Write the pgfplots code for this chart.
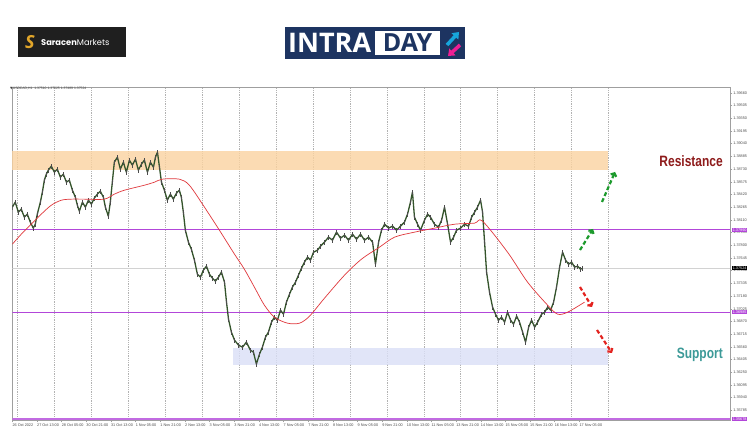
\documentclass[border=0pt]{standalone}
\usepackage{pgfplots}
\pgfplotsset{compat=1.18}
\usepackage{pgfplotstable}
\usepackage{fontspec}
\setmainfont{Liberation Sans}
\newfontfamily\headfont[FakeStretch=0.8]{Liberation Sans}
\newfontfamily\logofont{Open Sans}
\newfontfamily\sarfont{Poppins}
\newfontfamily\symfont{DejaVu Sans}
\usetikzlibrary{arrows.meta}

\definecolor{candle}{HTML}{34542B}
\definecolor{mavg}{HTML}{E0383C}
\definecolor{lvl}{HTML}{B246D9}
\definecolor{zoneR}{HTML}{FBD3A0}
\definecolor{zoneS}{HTML}{DADFF7}
\definecolor{navy}{HTML}{1D3461}
\definecolor{gold}{HTML}{E2A62A}
\definecolor{resred}{HTML}{8E1B1B}
\definecolor{supteal}{HTML}{3C9A98}
\definecolor{arrgreen}{HTML}{1C9A2C}
\definecolor{arrred}{HTML}{E3231F}

% hourly closes, USDCAD H1 (bar index, price)
\pgfplotstableread{
bar price
0 1.38265
1.9 1.38326
3.9 1.38204
5.8 1.38241
7.8 1.38143
9.7 1.38180
11.7 1.38082
13.6 1.38009
14.9 1.38057
16.2 1.38180
18.2 1.38326
19.5 1.38448
20.8 1.38595
22.1 1.38668
23.4 1.38717
25.3 1.38765
27.3 1.38692
29.2 1.38729
31.2 1.38631
33.1 1.38668
35.1 1.38570
37.0 1.38595
39.0 1.38472
40.9 1.38387
42.2 1.38289
43.5 1.38216
45.5 1.38326
47.4 1.38265
49.4 1.38350
51.3 1.38302
53.2 1.38375
55.2 1.38424
57.1 1.38460
59.1 1.38387
60.4 1.38265
62.3 1.38155
63.6 1.38326
64.9 1.38570
66.2 1.38814
68.2 1.38875
70.1 1.38729
72.1 1.38814
74.0 1.38692
76.0 1.38839
77.9 1.38778
79.9 1.38851
81.8 1.38717
83.8 1.38790
85.7 1.38839
87.7 1.38692
89.6 1.38814
91.6 1.38753
92.9 1.38875
94.2 1.38936
95.5 1.38753
96.8 1.38570
98.7 1.38472
100.6 1.38350
102.6 1.38424
104.5 1.38363
106.5 1.38436
108.4 1.38472
109.7 1.38387
111.0 1.38204
112.3 1.37984
114.3 1.37838
116.2 1.37752
118.2 1.37618
120.1 1.37447
122.1 1.37411
124.0 1.37496
126.0 1.37545
127.9 1.37447
129.9 1.37398
131.8 1.37362
133.8 1.37411
135.7 1.37472
137.7 1.37350
139.0 1.37106
140.3 1.36898
142.2 1.36739
144.2 1.36642
146.8 1.36581
149.4 1.36556
151.9 1.36617
154.5 1.36520
156.5 1.36495
158.4 1.36349
160.4 1.36471
162.3 1.36556
164.3 1.36678
166.2 1.36739
168.2 1.36861
170.1 1.36922
172.1 1.36886
174.0 1.37008
176.0 1.36959
177.9 1.37106
179.9 1.37203
181.8 1.37289
183.8 1.37350
185.7 1.37435
187.7 1.37520
189.6 1.37594
191.6 1.37655
193.5 1.37618
195.5 1.37716
198.1 1.37740
200.0 1.37789
202.6 1.37838
205.2 1.37899
207.8 1.37862
210.4 1.37960
213.0 1.37887
215.6 1.37923
218.2 1.37862
220.8 1.37935
223.4 1.37874
226.0 1.37935
228.6 1.37862
231.2 1.37899
233.8 1.37838
235.7 1.37569
237.7 1.37838
239.6 1.37984
241.6 1.38057
244.2 1.38009
246.8 1.38033
249.4 1.37984
251.9 1.38033
254.5 1.38082
256.5 1.38180
258.4 1.38326
259.7 1.38448
261.0 1.38143
263.0 1.38057
264.9 1.37984
267.5 1.38106
269.5 1.38180
271.4 1.38143
274.0 1.38057
276.6 1.38021
278.6 1.38106
280.5 1.38265
282.5 1.38057
284.4 1.37838
286.4 1.37899
288.3 1.37984
290.9 1.38009
293.5 1.38057
296.1 1.38033
298.1 1.38143
300.0 1.38204
301.9 1.38265
303.9 1.38350
305.2 1.38204
306.5 1.37838
307.8 1.37472
309.7 1.37228
311.7 1.37044
313.6 1.36959
315.6 1.36886
317.5 1.36922
319.5 1.36861
321.4 1.36983
323.4 1.36886
325.3 1.36837
327.3 1.36935
329.2 1.36861
331.2 1.36739
333.1 1.36617
335.1 1.36800
337.0 1.36886
339.0 1.36800
340.9 1.36861
343.5 1.36959
345.5 1.36983
347.4 1.37044
349.4 1.37008
351.3 1.37106
353.2 1.37289
355.2 1.37533
357.1 1.37716
359.1 1.37618
361.0 1.37569
363.0 1.37594
364.9 1.37533
366.9 1.37545
368.8 1.37508
370.1 1.37520
}\closes

% moving average
\pgfplotstableread{
bar price
0 1.37813
5.8 1.37935
12.3 1.38057
18.8 1.38180
25.3 1.38289
31.8 1.38350
38.3 1.38363
46.8 1.38363
59.7 1.38363
66.2 1.38424
72.7 1.38472
85.7 1.38533
92.2 1.38570
97.4 1.38607
108.4 1.38607
114.9 1.38533
124.7 1.38265
134.4 1.37984
144.2 1.37691
150.6 1.37508
157.1 1.37289
163.6 1.37069
170.1 1.36922
178.6 1.36849
186.4 1.36849
192.9 1.36935
202.6 1.37154
215.6 1.37435
226.6 1.37630
238.3 1.37777
248.1 1.37899
261.0 1.37960
274.0 1.38009
287.0 1.38057
300.0 1.38070
305.2 1.38094
321.4 1.37716
334.4 1.37350
347.4 1.37069
353.9 1.36959
360.4 1.36983
371.4 1.37106
}\movavg

\begin{document}
\begin{tikzpicture}[x=1pt,y=1pt]
\useasboundingbox (0,0) rectangle (750,430);
\fill[white] (0,0) rectangle (750,430);

% header logos
\fill[black!88] (18,373) rectangle (126,403);
\node[text=gold, font=\logofont\bfseries\itshape\fontsize{18}{18}\selectfont] at (30,388) {S};
\node[anchor=west, text=white, font=\sarfont\fontsize{8.3}{10}\selectfont, inner sep=0] at (41,388) {\textbf{Saracen}Markets};
\fill[navy] (285,371) rectangle (465,403);
\node[anchor=west, text=white, font=\logofont\bfseries\fontsize{27}{27}\selectfont, inner sep=0] at (288,387) {INTRA};
\fill[white] (375,375) rectangle (440,399);
\node[text=navy, font=\logofont\bfseries\fontsize{25}{25}\selectfont, inner sep=0] at (407.5,387) {DAY};
\draw[line width=3.5pt, cyan!80!teal, -{Triangle[length=6pt,width=9pt]}] (447,385) -- (459,398);
\draw[line width=3.5pt, magenta!85!pink, -{Triangle[length=6pt,width=9pt]}] (460,385) -- (448,374);

\begin{axis}[
  at={(8,12)}, anchor=south west,
  scale only axis, width=718pt, height=333pt,
  xmin=0, xmax=466, ymin=1.35665, ymax=1.39730,
  clip mode=individual,
  axis line style={gray!75, line width=0.5pt},
  tick align=outside, major tick length=2pt,
  tick style={gray!75, line width=0.4pt},
  xtick pos=left, ytick pos=right,
  yticklabel pos=right,
  ytick={1.39660,1.39505,1.39350,1.39195,1.39040,1.38885,1.38730,1.38575,1.38420,1.38265,1.38110,1.37955,1.37800,1.37645,1.37490,1.37335,1.37180,1.37025,1.36870,1.36715,1.36560,1.36405,1.36250,1.36095,1.35940,1.35785},
  /pgf/number format/assume math mode=true,
  yticklabel style={font=\fontsize{3.8}{4.5}\selectfont, text=black!70, inner sep=0.8pt,
    /pgf/number format/.cd, fixed, fixed zerofill, precision=5},
  xtick={0,16,...,368},
  xticklabels={26 Oct 2022, 27 Oct 13:00, 28 Oct 05:00, 30 Oct 21:00, 31 Oct 13:00, 1 Nov 05:00, 1 Nov 21:00, 2 Nov 13:00, 3 Nov 05:00, 3 Nov 21:00, 4 Nov 13:00, 7 Nov 05:00, 7 Nov 21:00, 8 Nov 13:00, 9 Nov 05:00, 9 Nov 21:00, 10 Nov 13:00, 11 Nov 05:00, 13 Nov 21:00, 14 Nov 13:00, 15 Nov 05:00, 15 Nov 21:00, 16 Nov 13:00, 17 Nov 05:00},
  xticklabel style={font=\fontsize{3.8}{4.5}\selectfont, text=black!70, anchor=north west, inner sep=1pt, xshift=-1pt},
  extra x ticks={3,27,51,75,99,123,147,171,195,219,243,267,291,315,339,363,387},
  extra x tick labels={},
  extra x tick style={grid=major, major tick length=0pt},
  grid style={gray!60, dash pattern=on 0.8pt off 1pt, line width=0.4pt},
]
% zones
\fill[zoneR, opacity=0.8] (axis cs:0,1.38717) rectangle (axis cs:386.4,1.38948);
\fill[zoneS, opacity=0.8] (axis cs:142.9,1.36337) rectangle (axis cs:386.4,1.36544);

% level lines
\addplot[gray!35, line width=0.5pt] coordinates {(0,1.37520) (466,1.37520)};
\addplot[lvl, line width=0.8pt] coordinates {(0,1.37990) (466,1.37990)};
\addplot[lvl, line width=0.8pt] coordinates {(0,1.36984) (466,1.36984)};
\addplot[lvl!80, line width=1.3pt] coordinates {(0,1.35678) (466,1.35678)};

% price
\addplot[candle, line width=1.3pt, line join=round,
  error bars/.cd, y dir=both, y fixed=0.0003, error mark=none,
  error bar style={line width=0.35pt, black!70}]
  table[x=bar, y=price] {\closes};

% moving average
\addplot[mavg, line width=0.7pt, smooth] table[x=bar, y=price] {\movavg};

% price tags on the right scale
\node[fill=lvl, text=white, font=\fontsize{3.8}{4.5}\selectfont, anchor=west, inner sep=0.7pt] at (axis cs:467,1.37990) {1.37990};
\node[fill=lvl, text=white, font=\fontsize{3.8}{4.5}\selectfont, anchor=west, inner sep=0.7pt] at (axis cs:467,1.36984) {1.36985};
\node[fill=lvl, text=white, font=\fontsize{3.8}{4.5}\selectfont, anchor=west, inner sep=0.7pt] at (axis cs:467,1.35678) {1.35678};
\node[fill=black, text=white, font=\fontsize{3.8}{4.5}\selectfont, anchor=west, inner sep=0.7pt] at (axis cs:467,1.37520) {1.37524};
\end{axis}

% chart caption
\node[anchor=north west, font=\fontsize{3.4}{4}\selectfont, text=black!75, inner sep=0] at (10,343.5) {{\symfont▼}USDCAD,H1\ \ 1.37510 1.37525 1.37489 1.37524};

% annotations
\node[anchor=east, text=resred, font=\headfont\bfseries\fontsize{15}{16}\selectfont, inner sep=0] at (723,269) {Resistance};
\node[anchor=east, text=supteal, font=\headfont\bfseries\fontsize{15}{16}\selectfont, inner sep=0] at (723,75) {Support};

\tikzset{tr/.style={line width=2.2pt, dash pattern=on 4pt off 2.5pt, -{Straight Barb[length=2.5pt,width=6pt]}}}
\draw[tr, arrgreen] (580,180) -- (593,201);
\draw[tr, arrgreen] (602,228) -- (615,258);
\draw[tr, arrred] (580,143) -- (592,123);
\draw[tr, arrred] (597,100) -- (612,77);
\end{tikzpicture}
\end{document}
